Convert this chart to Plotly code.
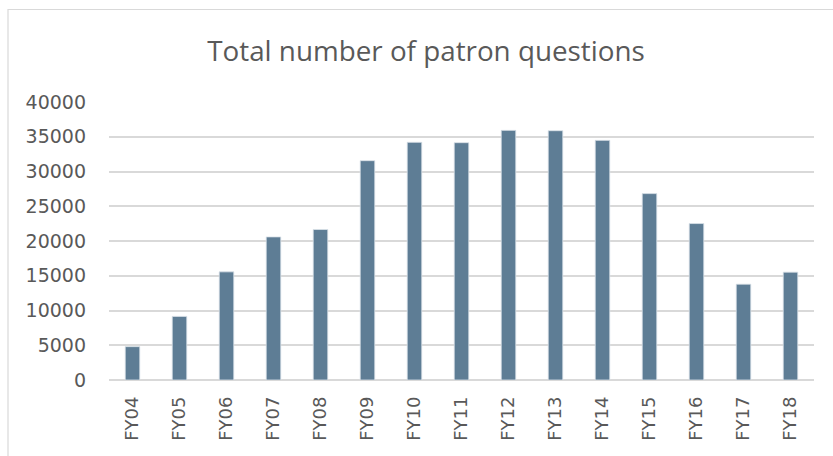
import plotly.graph_objects as go

categories = ["FY04", "FY05", "FY06", "FY07", "FY08", "FY09", "FY10", "FY11",
              "FY12", "FY13", "FY14", "FY15", "FY16", "FY17", "FY18"]
questions = [4800, 9150, 15560, 20590, 21650, 31560, 34200, 34150,
             35920, 35870, 34480, 26820, 22510, 13790, 15520]
y_ticks = [0, 5000, 10000, 15000, 20000, 25000, 30000, 35000, 40000]
y_tick_labels = [str(v) for v in y_ticks]

W, H = 833, 456
L, R, T, B = 109, 19, 102, 76
pw, ph = W - L - R, H - T - B

def px_x(x):
    return (x - L) / pw

def px_y(y):
    return (H - B - y) / ph

fig = go.Figure(go.Bar(
    x=categories, y=questions,
    marker=dict(color="#5E7D95", line=dict(width=0.8, color="#DCE3EA")),
))

fig.update_layout(
    width=W, height=H,
    margin=dict(l=L, r=R, t=T, b=B),
    paper_bgcolor="white", plot_bgcolor="white",
    bargap=0.69,
    showlegend=False,
    title=dict(text="Total number of patron questions", x=(426 - L) / pw, xref="paper",
               xanchor="center", y=1 - 51 / H, yanchor="middle",
               font=dict(family="Open Sans", size=27.8, color="#595959")),
    font=dict(family="DejaVu Sans", size=18, color="#595959"),
    xaxis=dict(tickangle=-90, showgrid=False, showline=False, ticks="",
               ticklabelstandoff=12,
               tickfont=dict(family="DejaVu Sans", size=18, color="#595959")),
    yaxis=dict(range=[0, 40000], tickvals=y_ticks, ticktext=y_tick_labels, ticks="",
               showgrid=True, gridcolor="#D9D9D9", gridwidth=1.5,
               zeroline=True, zerolinecolor="#D9D9D9", zerolinewidth=1.5,
               showline=False, ticklabelstandoff=22,
               tickfont=dict(family="DejaVu Sans", size=19, color="#595959")),
    shapes=[dict(type="rect", xref="paper", yref="paper",
                 x0=px_x(8), x1=px_x(W + 10), y0=px_y(H + 10), y1=px_y(9.5),
                 line=dict(color="#D9D9D9", width=1.2), fillcolor="rgba(0,0,0,0)",
                 layer="below")],
)

fig.write_html("out.html", config={"displayModeBar": False},
               post_script="document.body.style.margin='0';")
